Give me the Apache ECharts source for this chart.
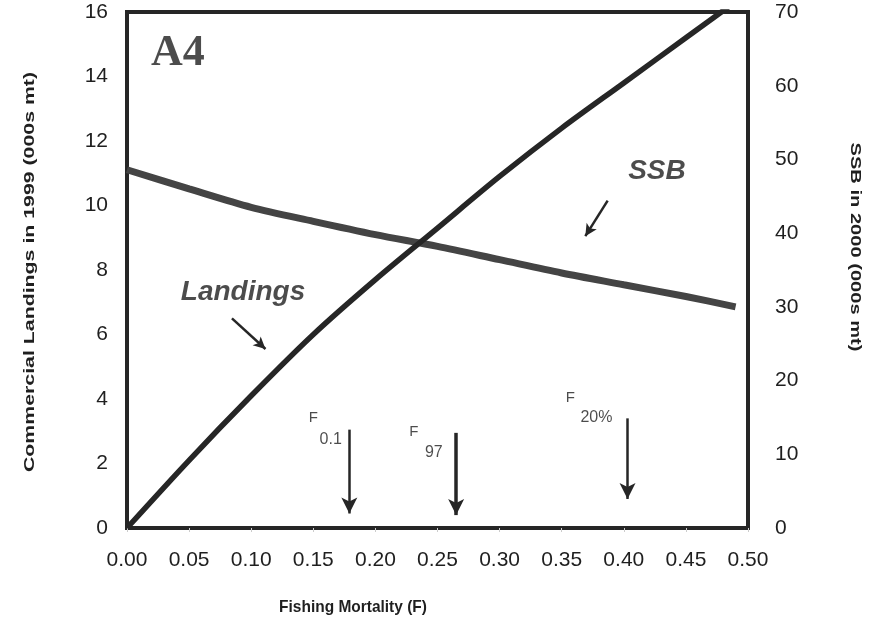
<!DOCTYPE html>
<html><head><meta charset="utf-8">
<script src="https://cdn.jsdelivr.net/npm/echarts@6/dist/echarts.min.js"></script>
<style>html,body{margin:0;padding:0;background:#fff}#c{width:881px;height:620px}</style>
</head><body><div id="c"></div>
<script>
// Fishing mortality (x) values
const fLand = [0, 0.05, 0.10, 0.15, 0.20, 0.25, 0.30, 0.35, 0.40, 0.45, 0.50];
const landings = [0, 2.1, 4.1, 6.0, 7.7, 9.3, 10.9, 12.4, 13.8, 15.2, 16.6];
const fSSB = [0, 0.05, 0.10, 0.15, 0.20, 0.25, 0.30, 0.35, 0.40, 0.45, 0.49];
const ssb = [48.6, 46.0, 43.5, 41.6, 39.8, 38.2, 36.4, 34.6, 33.0, 31.4, 30.0];
const xTicks = ['0.00','0.05','0.10','0.15','0.20','0.25','0.30','0.35','0.40','0.45','0.50'];
// reference-point arrows: F value, top, bottom (left-axis units)
const refF = [0.179, 0.265, 0.403];
const refTop = [3.05, 2.95, 3.4];
const refBottom = [0.45, 0.4, 0.9];
const refWidth = [2.5, 3.5, 2.5];
// reference-point labels
const refMain = ['F', 'F', 'F'];
const refMainPos = [[0.150, 3.43], [0.231, 2.98], [0.357, 4.03]];
const refSub = ['0.1', '97', '20%'];
const refSubPos = [[0.164, 2.75], [0.247, 2.34], [0.378, 3.41]];
// series name labels and pointer arrows
const seriesLabels = ['Landings', 'SSB'];
const seriesLabelPos = [[0.0934, 7.3], [0.4267, 11.05]];
const pointerFrom = [[0.0845, 6.5], [0.387, 10.15]];
const pointerTo = [[0.1115, 5.55], [0.369, 9.05]];
const panelLabel = 'A4';
const panelPos = [0.041, 14.7];

const ink = '#262626';
const txt = '#1f1f1f';
const sans = 'Liberation Sans, Arial, sans-serif';

const arrowLines = refF.map((f, i) => [
  {coord: [f, refTop[i]], lineStyle: {width: refWidth[i], color: ink}},
  {coord: [f, refBottom[i]]}
]);
const pointerLines = pointerFrom.map((p, i) => [{coord: p}, {coord: pointerTo[i]}]);

const textPts = [];
refMain.forEach((t, i) => textPts.push({value: refMainPos[i], t: t, fs: 15}));
refSub.forEach((t, i) => textPts.push({value: refSubPos[i], t: t, fs: 16}));
seriesLabels.forEach((t, i) => textPts.push({value: seriesLabelPos[i], t: t, fs: 28, style: 'italic', fw: 'bold'}));
textPts.push({value: panelPos, t: panelLabel, fs: 44, fw: 'bold', ff: 'Liberation Serif, Times New Roman, serif'});

const chart = echarts.init(document.getElementById('c'), null, {renderer: 'canvas'});
chart.setOption({
  animation: false,
  backgroundColor: '#fff',
  grid: {left: 127, right: 133, top: 12, bottom: 92, show: true, borderWidth: 4, borderColor: ink},
  xAxis: {
    type: 'value', min: 0, max: 0.5, interval: 0.05,
    axisLine: {lineStyle: {color: ink, width: 4}},
    axisTick: {show: true, inside: false, length: 4, lineStyle: {color: '#ccc', width: 1}},
    splitLine: {show: false},
    axisLabel: {color: txt, fontSize: 21, fontFamily: sans, margin: 22,
      formatter: v => xTicks[Math.round(v / 0.05)]}
  },
  yAxis: [
    {type: 'value', min: 0, max: 16, interval: 2,
      axisLine: {show: true, lineStyle: {color: ink, width: 4}},
      axisTick: {show: false}, splitLine: {show: false},
      axisLabel: {color: txt, fontSize: 21, fontFamily: sans, margin: 19}},
    {type: 'value', min: 0, max: 70, interval: 10,
      axisLine: {show: true, lineStyle: {color: ink, width: 4}},
      axisTick: {show: false}, splitLine: {show: false},
      axisLabel: {color: txt, fontSize: 21, fontFamily: sans, margin: 27}}
  ],
  graphic: [
    {type: 'text', x: 353, y: 607, scaleX: 0.91, style: {text: 'Fishing Mortality (F)', font: 'bold 17px ' + sans, fill: txt, align: 'center', verticalAlign: 'middle'}},
    {type: 'text', x: 30, y: 272, rotation: Math.PI / 2, scaleX: 1.42, style: {text: 'Commercial Landings in 1999 (000s mt)', font: 'bold 15px ' + sans, fill: txt, align: 'center', verticalAlign: 'middle'}},
    {type: 'text', x: 855, y: 247, rotation: -Math.PI / 2, scaleX: 1.34, style: {text: 'SSB in 2000 (000s mt)', font: 'bold 15px ' + sans, fill: txt, align: 'center', verticalAlign: 'middle'}}
  ],
  series: [
    {name: 'Landings', type: 'line', yAxisIndex: 0, smooth: 0.3, symbol: 'none', clip: true,
      data: fLand.map((f, i) => [f, landings[i]]),
      lineStyle: {color: ink, width: 5.5}, z: 3},
    {name: 'SSB', type: 'line', yAxisIndex: 1, smooth: 0.3, symbol: 'none', clip: true,
      data: fSSB.map((f, i) => [f, ssb[i]]),
      lineStyle: {color: '#444', width: 7}, z: 2},
    {type: 'line', yAxisIndex: 0, data: [], silent: true,
      markLine: {silent: true, symbol: ['none', 'arrow'], symbolSize: [12, 16],
        label: {show: false}, lineStyle: {color: ink, type: 'solid', width: 3},
        data: arrowLines}},
    {type: 'line', yAxisIndex: 0, data: [], silent: true,
      markLine: {silent: true, symbol: ['none', 'arrow'], symbolSize: [9, 12],
        label: {show: false}, lineStyle: {color: ink, type: 'solid', width: 2.5},
        data: pointerLines}},
    {type: 'scatter', yAxisIndex: 0, symbolSize: 0, silent: true,
      data: textPts.map(p => ({value: p.value,
        label: {show: true, position: 'inside', formatter: p.t, color: txt, fontSize: p.fs,
          fontStyle: p.style || 'normal', fontWeight: p.fw || 'normal', fontFamily: p.ff || sans}}))}
  ]
});
</script></body></html>
